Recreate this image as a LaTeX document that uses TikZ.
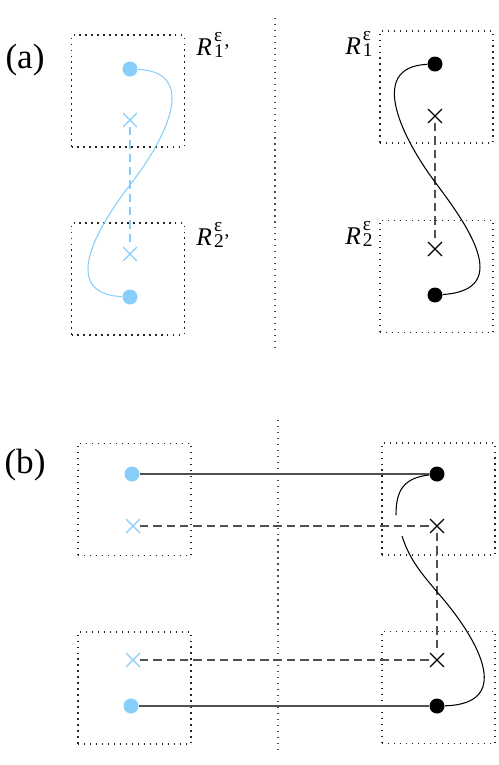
\documentclass[tikz,border=0pt]{standalone}
\usepackage{amsmath}
\usepackage{fontspec}
\setmainfont{Liberation Serif}
\usetikzlibrary{shapes.misc}
\definecolor{skyblue}{RGB}{135,206,250}
\definecolor{linegray}{RGB}{80,80,80}
\newcommand{\reglab}[1]{\textit{R}\hspace{1.2pt}\rlap{\raisebox{7.8pt}{\fontsize{11}{12}\selectfont ε}}%
  {\fontsize{11}{12}\selectfont\raisebox{-1.6pt}{#1}}}
\tikzset{
  regbox/.style={rectangle, draw=black!85, line width=0.8pt,
                 dash pattern=on 0.8pt off 2.6pt,
                 minimum width=2.26cm, minimum height=2.24cm, inner sep=0pt},
  divider/.style={draw=black!70, line width=0.8pt, dash pattern=on 0.8pt off 2.6pt},
  ptdot/.style={circle, fill=black, minimum size=0.30cm, inner sep=0pt},
  ptdotb/.style={ptdot, fill=skyblue},
  ptcross/.style={cross out, draw=black, line width=0.75pt,
                  minimum size=0.25cm, inner sep=0pt},
  ptcrossb/.style={ptcross, draw=skyblue},
  link/.style={draw=linegray, line width=0.7pt},
  dlink/.style={link, dash pattern=on 4.8pt off 2.8pt},
  strand/.style={draw=black, line width=0.6pt},
  strandb/.style={strand, draw=skyblue},
  lbl/.style={font=\fontsize{14.5}{16}\selectfont, inner sep=0pt},
  plabel/.style={font=\fontsize{20}{22}\selectfont, inner sep=0pt},
}

\begin{document}
\begin{tikzpicture}[x=0.02cm, y=-0.02cm]
  \useasboundingbox (0,0) rectangle (498,765);

  % (a)
  \node[plabel] (labA) at (25,60) {(a)};
  \coordinate (divAtop) at (275,18);
  \coordinate (divAbot) at (275,347);
  \draw[divider] (divAtop) -- (divAbot);

  \node[regbox] (boxAL1) at (128,91)  {};
  \node[regbox] (boxAL2) at (128,279) {};
  \node[regbox] (boxAR1) at (436.5,87)  {};
  \node[regbox] (boxAR2) at (436.5,276.5) {};

  \node[lbl, anchor=base west] (lblAL1) at (196,55)  {\reglab{1’}};
  \node[lbl, anchor=base west] (lblAL2) at (196,245) {\reglab{2’}};
  \node[lbl, anchor=base east] (lblAR1) at (373,54)  {\reglab{1}};
  \node[lbl, anchor=base east] (lblAR2) at (373,244) {\reglab{2}};

  \node[ptdotb]   (aL1dot)   at (130,69)  {};
  \node[ptcrossb] (aL1cross) at (130,120) {};
  \node[ptcrossb] (aL2cross) at (130,254) {};
  \node[ptdotb]   (aL2dot)   at (130,297) {};
  \coordinate (aLmid) at (130,185);

  \node[ptdot]   (aR1dot)   at (435,64)  {};
  \node[ptcross] (aR1cross) at (435,116) {};
  \node[ptcross] (aR2cross) at (435,249) {};
  \node[ptdot]   (aR2dot)   at (435,295) {};
  \coordinate (aRmid) at (435,182);

  \draw[dlink, draw=skyblue] (aL1cross) -- (aL2cross);
  \draw[strandb] (aL1dot) .. controls +(70,3) and +(35,-45) .. (aLmid)
                 .. controls +(-35,45) and +(-70,-3) .. (aL2dot);
  \draw[dlink] (aR1cross) -- (aR2cross);
  \draw[strand] (aR1dot) .. controls +(-70,3) and +(-30,-40) .. (aRmid)
                .. controls +(30,40) and +(80,-5) .. (aR2dot);

  % (b)
  \node[plabel] (labB) at (25,465) {(b)};
  \coordinate (divBtop) at (278,420);
  \coordinate (divBbot) at (278,752);
  \draw[divider] (divBtop) -- (divBbot);

  \node[regbox] (boxBL1) at (134.5,499.5) {};
  \node[regbox] (boxBL2) at (134.5,688)   {};
  \node[regbox] (boxBR1) at (438.5,499)   {};
  \node[regbox] (boxBR2) at (438.5,687.5) {};

  \node[ptdotb]   (bL1dot)   at (132,474) {};
  \node[ptcrossb] (bL1cross) at (133,526) {};
  \node[ptcrossb] (bL2cross) at (133,660) {};
  \node[ptdotb]   (bL2dot)   at (131,706) {};

  \node[ptdot]   (bR1dot)   at (437,474) {};
  \node[ptcross] (bR1cross) at (437,526) {};
  \node[ptcross] (bR2cross) at (437,660) {};
  \node[ptdot]   (bR2dot)   at (437,706) {};
  \coordinate (gapTop) at (396,515);
  \coordinate (gapBot) at (402,536);
  \coordinate (bRmid) at (438,593);

  \draw[link]  (bL1dot) -- (bR1dot);
  \draw[dlink] (bL1cross) -- (bR1cross);
  \draw[dlink] (bL2cross) -- (bR2cross);
  \draw[link]  (bL2dot) -- (bR2dot);
  \draw[dlink] (bR1cross) -- (bR2cross);

  \draw[strand] (bR1dot) .. controls +(-34,4) and +(0,-24) .. (gapTop);
  \draw[strand] (gapBot) .. controls +(8,25) and +(-15,-18) .. (bRmid)
                .. controls +(37,42) and +(80,-2) .. (bR2dot);
\end{tikzpicture}
\end{document}
